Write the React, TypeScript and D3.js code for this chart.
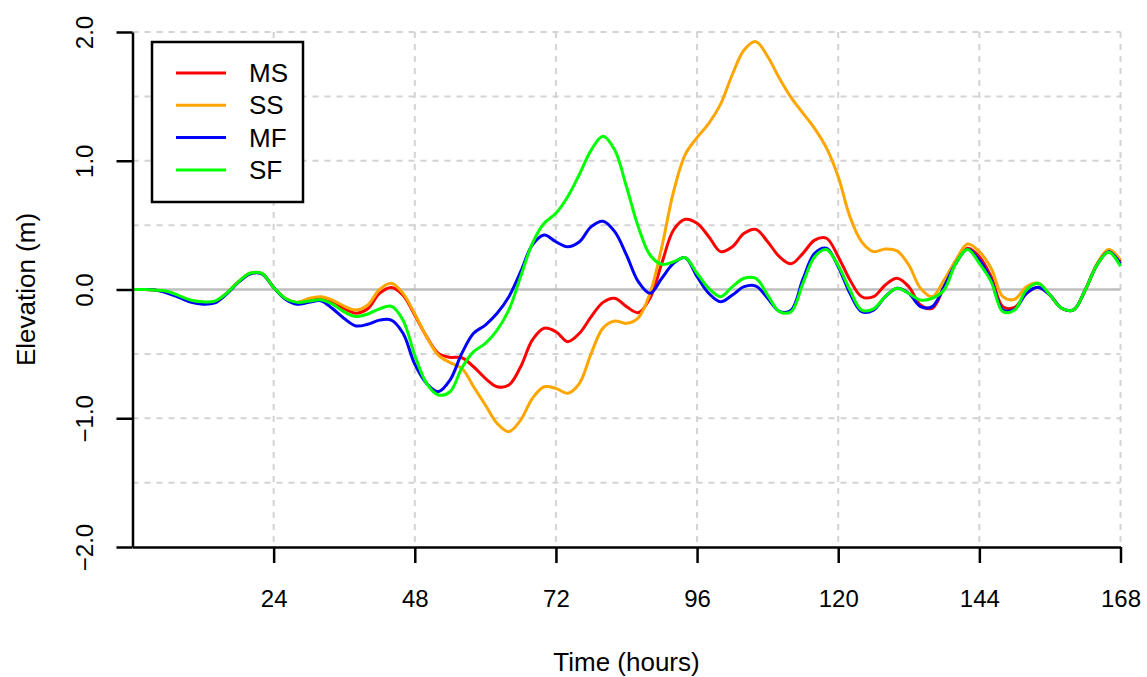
import React, { useEffect, useRef } from "react";
import * as d3 from "d3";

// time axis, sampled every 2 hours
const hours = d3.range(0, 169, 2);

const msValues = [
  0, 0, -0.005, -0.02, -0.055, -0.09, -0.105, -0.095, -0.03, 0.06, 0.124, 0.124, 0.016, -0.07, -0.1,
  -0.075, -0.062, -0.096, -0.148, -0.184, -0.15, -0.03, 0.016, -0.044, -0.2, -0.366, -0.496, -0.527,
  -0.53, -0.6, -0.69, -0.755, -0.742, -0.6, -0.392, -0.301, -0.328, -0.405, -0.34, -0.211, -0.1, -0.068,
  -0.133, -0.18, -0.068, 0.203, 0.462, 0.545, 0.514, 0.41, 0.294, 0.332, 0.436, 0.467, 0.371, 0.255,
  0.2, 0.281, 0.384, 0.398, 0.255, 0.074, -0.056, -0.056, 0.035, 0.087, 0.022, -0.12, -0.146, 0.022,
  0.216, 0.32, 0.255, 0.1, -0.133, -0.139, -0.03, 0.017, -0.043, -0.146, -0.159, -0.004, 0.19, 0.294,
  0.22,
];

const ssValues = [
  0, 0, -0.005, -0.02, -0.055, -0.09, -0.105, -0.095, -0.03, 0.06, 0.124, 0.124, 0.016, -0.07, -0.1,
  -0.07, -0.057, -0.083, -0.13, -0.159, -0.12, 0.0, 0.048, -0.03, -0.19, -0.366, -0.51, -0.568,
  -0.612, -0.755, -0.897, -1.04, -1.104, -1.014, -0.845, -0.755, -0.768, -0.806, -0.729, -0.496, -0.3,
  -0.245, -0.263, -0.22, -0.03, 0.33, 0.76, 1.05, 1.18, 1.29, 1.44, 1.67, 1.86, 1.925, 1.81, 1.64,
  1.49, 1.37, 1.25, 1.1, 0.876, 0.565, 0.37, 0.294, 0.315, 0.3, 0.19, 0.009, -0.056, 0.074,
  0.229, 0.353, 0.294, 0.165, -0.056, -0.076, 0.022, 0.048, -0.043, -0.146, -0.159, -0.004, 0.2, 0.31,
  0.23,
];

const mfValues = [
  0, 0, -0.005, -0.03, -0.063, -0.1, -0.114, -0.104, -0.035, 0.055, 0.12, 0.122, 0.016, -0.075, -0.114,
  -0.1, -0.087, -0.148, -0.225, -0.283, -0.27, -0.238, -0.238, -0.34, -0.58, -0.729, -0.794, -0.703,
  -0.496, -0.34, -0.276, -0.185, -0.056, 0.138, 0.346, 0.423, 0.371, 0.332, 0.371, 0.488, 0.53, 0.449,
  0.268, 0.061, -0.03, 0.087, 0.203, 0.247, 0.1, -0.03, -0.095, -0.043, 0.022, 0.027, -0.068, -0.17,
  -0.16, 0.08, 0.281, 0.32, 0.177, -0.03, -0.172, -0.16, -0.056, 0.01, -0.03, -0.133, -0.133, 0.022,
  0.203, 0.312, 0.229, 0.074, -0.159, -0.154, -0.03, 0.017, -0.043, -0.146, -0.159, -0.004, 0.19, 0.294,
  0.2,
];

const sfValues = [
  0, 0, -0.005, -0.015, -0.05, -0.083, -0.096, -0.09, -0.03, 0.06, 0.126, 0.126, 0.016, -0.07, -0.1,
  -0.09, -0.08, -0.114, -0.174, -0.21, -0.19, -0.15, -0.13, -0.238, -0.51, -0.729, -0.819, -0.794,
  -0.61, -0.483, -0.418, -0.315, -0.159, 0.1, 0.359, 0.514, 0.592, 0.721, 0.895, 1.083, 1.19, 1.083,
  0.798, 0.488, 0.268, 0.196, 0.216, 0.247, 0.126, 0.009, -0.056, 0.022, 0.087, 0.087, -0.043, -0.172,
  -0.172, 0.048, 0.255, 0.31, 0.186, -0.004, -0.16, -0.15, -0.056, 0.01, -0.03, -0.082, -0.068, -0.004,
  0.203, 0.31, 0.203, 0.061, -0.172, -0.159, -0.004, 0.048, -0.043, -0.146, -0.159, -0.004, 0.19, 0.29,
  0.18,
];

const seriesNames = ["MS", "SS", "MF", "SF"];
const seriesColors = ["#ff0000", "#ffa500", "#0000ff", "#00ff00"];
const seriesValues = [msValues, ssValues, mfValues, sfValues];

const xTicks = [24, 48, 72, 96, 120, 144, 168];
const yTicks = [-2, -1, 0, 1, 2];
const yGrid = [-1.5, -1, -0.5, 0.5, 1, 1.5, 2];

const W = 1147;
const H = 677;
const FONT = "'Liberation Sans', Arial, Helvetica, sans-serif";

const App = () => {
  const ref = useRef<SVGSVGElement>(null);

  useEffect(() => {
    const svg = d3.select(ref.current);
    svg.selectAll("*").remove();

    const x = d3.scaleLinear().domain([0, 168]).range([132.5, 1120.5]);
    const y = d3.scaleLinear().domain([-2, 2]).range([547, 32]);

    svg.append("rect").attr("width", W).attr("height", H).attr("fill", "#fff");

    // grid
    const grid = svg.append("g").attr("stroke", "#d3d3d3").attr("stroke-width", 2).attr("stroke-dasharray", "6,6");
    grid.selectAll(".gy")
      .data(yGrid)
      .enter()
      .append("line")
      .attr("x1", x(0))
      .attr("x2", x(168))
      .attr("y1", (d) => y(d))
      .attr("y2", (d) => y(d));
    grid.selectAll(".gx")
      .data(xTicks)
      .enter()
      .append("line")
      .attr("x1", (d) => x(d))
      .attr("x2", (d) => x(d))
      .attr("y1", y(2))
      .attr("y2", y(-2));

    // zero line
    svg.append("line")
      .attr("x1", x(0))
      .attr("x2", x(168))
      .attr("y1", y(0))
      .attr("y2", y(0))
      .attr("stroke", "#bebebe")
      .attr("stroke-width", 2.5);

    // series
    const line = d3
      .line<number>()
      .x((d, i) => x(hours[i]))
      .y((d) => y(d))
      .curve(d3.curveCatmullRom.alpha(0.5));

    seriesValues.forEach((vals, i) => {
      svg.append("path")
        .attr("d", line(vals))
        .attr("fill", "none")
        .attr("stroke", seriesColors[i])
        .attr("stroke-width", 3)
        .attr("stroke-linejoin", "round");
    });

    // axes
    const yAxis = svg.append("g")
      .attr("transform", `translate(${x(0)},0)`)
      .call(d3.axisLeft(y).tickValues(yTicks).tickSize(16).tickSizeOuter(0).tickFormat(d3.format(".1f")));
    yAxis.select(".domain").attr("stroke-width", 2.5);
    yAxis.selectAll(".tick line").attr("stroke-width", 2.5);
    yAxis.selectAll(".tick text").remove();
    yAxis.selectAll(".tick")
      .append("text")
      .attr("transform", "translate(-40,0) rotate(-90)")
      .attr("text-anchor", "middle")
      .attr("fill", "#000")
      .style("font-family", FONT)
      .style("font-size", "24px")
      .text((d: any) => d3.format(".1f")(d));

    const xAxis = svg.append("g")
      .attr("transform", `translate(0,${y(-2)})`)
      .call(d3.axisBottom(x).tickValues(xTicks).tickSize(16).tickSizeOuter(0));
    xAxis.select(".domain").attr("stroke-width", 2.5);
    xAxis.selectAll(".tick line").attr("stroke-width", 2.5);
    xAxis.selectAll(".tick text")
      .attr("y", 43)
      .attr("fill", "#000")
      .style("font-family", FONT)
      .style("font-size", "24px");

    // axis titles
    svg.append("text")
      .attr("x", (x(0) + x(168)) / 2)
      .attr("y", 671)
      .attr("text-anchor", "middle")
      .style("font-family", FONT)
      .style("font-size", "26px")
      .text("Time (hours)");

    svg.append("text")
      .attr("transform", `translate(35,${(y(2) + y(-2)) / 2}) rotate(-90)`)
      .attr("text-anchor", "middle")
      .style("font-family", FONT)
      .style("font-size", "26px")
      .text("Elevation (m)");

    // legend
    const legend = svg.append("g");
    legend.append("rect")
      .attr("x", 152)
      .attr("y", 42)
      .attr("width", 151)
      .attr("height", 160)
      .attr("fill", "#fff")
      .attr("stroke", "#000")
      .attr("stroke-width", 2.5);
    seriesNames.forEach((name, i) => {
      const ly = 73 + i * 32.3;
      legend.append("line")
        .attr("x1", 176)
        .attr("x2", 226)
        .attr("y1", ly)
        .attr("y2", ly)
        .attr("stroke", seriesColors[i])
        .attr("stroke-width", 3);
      legend.append("text")
        .attr("x", 249)
        .attr("y", ly)
        .attr("dy", "0.35em")
        .style("font-family", FONT)
        .style("font-size", "26px")
        .text(name);
    });
  }, []);

  return (
    <svg
      ref={ref}
      width={W}
      height={H}
      style={{ position: "absolute", left: 0, top: 0, display: "block" }}
    />
  );
};

export default App;
